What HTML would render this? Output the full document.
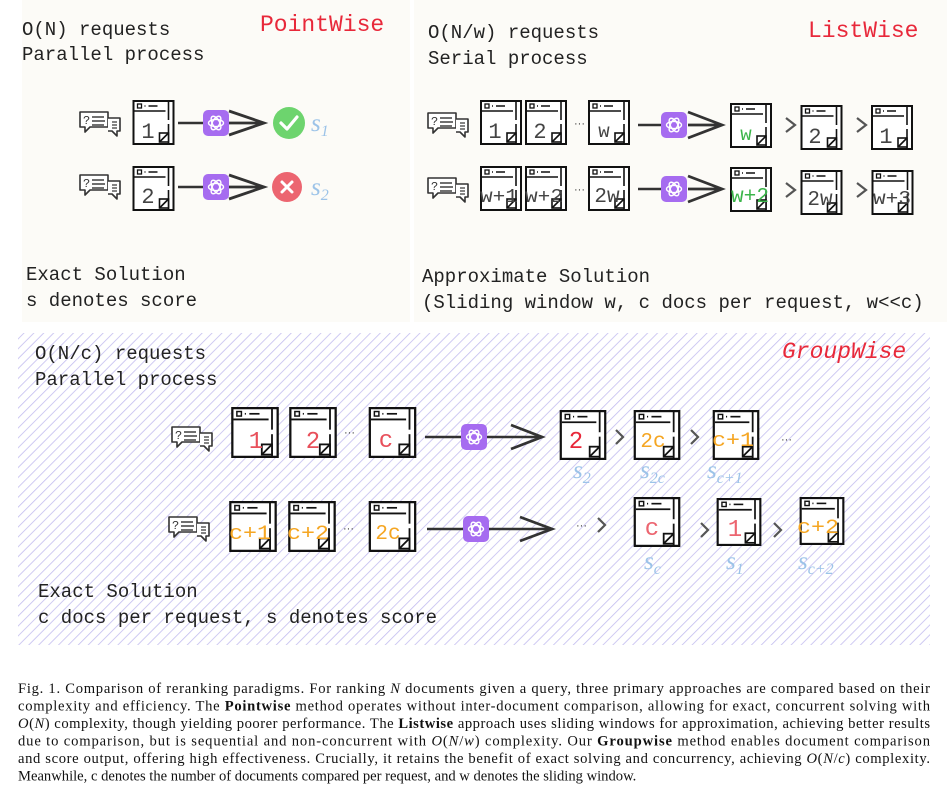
<!DOCTYPE html>
<html><head><meta charset="utf-8"><style>
html,body{margin:0;padding:0;background:#fff;}
svg{display:block;}
.m{font-family:"Liberation Mono",monospace;font-size:19px;fill:#222;}
.h{font-family:"Liberation Mono",monospace;font-size:23px;fill:#e8283a;}
.d{font-family:"Liberation Mono",monospace;font-size:22px;fill:#444;text-anchor:middle;}
.g{font-family:"Liberation Mono",monospace;font-size:24px;text-anchor:middle;}
.s{font-family:"Liberation Serif",serif;font-style:italic;font-size:25px;fill:#9cc3e8;}
.sub{font-size:16px;}
.c{font-family:"Liberation Serif",serif;font-size:14.6px;fill:#111;}
</style></head><body>
<svg width="947" height="792" viewBox="0 0 947 792" xmlns="http://www.w3.org/2000/svg">
<defs>
<pattern id="hatch" width="7" height="7" patternUnits="userSpaceOnUse" patternTransform="rotate(45)">
<rect width="7" height="7" fill="#fff"/>
<line x1="0" y1="0" x2="0" y2="7" stroke="#c3bdef" stroke-width="1.6"/>
</pattern>
<symbol id="doc" viewBox="0 0 42 45">
<rect x="1" y="1" width="40" height="43" fill="#fff" stroke="#111" stroke-width="2"/>
<line x1="36" y1="1" x2="36" y2="44" stroke="#111" stroke-width="1.6"/>
<line x1="2" y1="11" x2="33" y2="11" stroke="#111" stroke-width="1.6"/>
<rect x="5" y="4" width="4" height="4" fill="none" stroke="#111" stroke-width="1.3"/>
<line x1="12" y1="6" x2="13" y2="6" stroke="#111" stroke-width="1.5"/>
<line x1="16" y1="6" x2="25" y2="6" stroke="#111" stroke-width="1.5"/>
<rect x="27" y="33" width="9" height="9" fill="#fff" stroke="#111" stroke-width="1.6"/>
<line x1="27" y1="42" x2="36" y2="33" stroke="#111" stroke-width="1.6"/>
<line x1="36" y1="20" x2="36" y2="24" stroke="#fff" stroke-width="2"/>
</symbol>
<symbol id="chat" viewBox="0 0 44 28">
<path d="M2 2 H30 V17 H12 L7 22 V17 H2 Z" fill="#fff" stroke="#333" stroke-width="1.6" stroke-linejoin="round"/>
<path d="M30 8 H42 V21 H39 V26 L34 21 H30" fill="#fff" stroke="#333" stroke-width="1.6" stroke-linejoin="round"/>
<text x="5" y="14" font-family="Liberation Mono,monospace" font-size="12" fill="#333">?</text>
<line x1="14" y1="7" x2="26" y2="7" stroke="#333" stroke-width="1.4"/>
<line x1="14" y1="11" x2="27" y2="11" stroke="#333" stroke-width="1.4"/>
<line x1="14" y1="15" x2="26" y2="15" stroke="#333" stroke-width="1.4"/>
<line x1="34" y1="12" x2="39" y2="12" stroke="#333" stroke-width="1.2"/>
<line x1="34" y1="15" x2="39" y2="15" stroke="#333" stroke-width="1.2"/>
<line x1="34" y1="18" x2="39" y2="18" stroke="#333" stroke-width="1.2"/>
</symbol>
<symbol id="gpt" viewBox="0 0 26 26">
<rect x="0" y="0" width="26" height="26" rx="5" fill="#a66cf0"/>
<g fill="none" stroke="#fff" stroke-width="1.4">
<ellipse cx="13" cy="13" rx="7.5" ry="3.6"/>
<ellipse cx="13" cy="13" rx="7.5" ry="3.6" transform="rotate(60 13 13)"/>
<ellipse cx="13" cy="13" rx="7.5" ry="3.6" transform="rotate(120 13 13)"/>
</g>
</symbol>
</defs>

<rect x="22" y="0" width="388" height="322" fill="#fcfbf7"/>
<rect x="414" y="0" width="533" height="322" fill="#fcfbf7"/>
<rect x="18" y="333" width="912" height="312" fill="url(#hatch)"/>

<!-- POINTWISE -->
<text class="m" x="22" y="35">O(N) requests</text>
<text class="m" x="22" y="60">Parallel process</text>
<text class="h" x="260" y="31">PointWise</text>

<use href="#chat" x="78" y="110" width="44" height="28"/>
<use href="#doc" x="132" y="100" width="43" height="45"/>
<text class="d" x="148" y="138">1</text>
<line x1="178" y1="123" x2="204" y2="123" stroke="#333" stroke-width="2.5"/>
<use href="#gpt" x="203" y="110" width="26" height="26"/>
<path d="M229 111 L264 123 L229 135 M229 123 H264" fill="none" stroke="#333" stroke-width="2.8"/>
<circle cx="289" cy="123" r="16" fill="#6dd46e"/>
<path d="M281 123 L287 129 L297 117" fill="none" stroke="#fff" stroke-width="3.2" stroke-linecap="round" stroke-linejoin="round"/>
<text class="s" x="311" y="131">s<tspan class="sub" dy="5">1</tspan></text>

<use href="#chat" x="78" y="173" width="44" height="28"/>
<use href="#doc" x="132" y="166" width="43" height="45"/>
<text class="d" x="148" y="203">2</text>
<line x1="178" y1="187" x2="204" y2="187" stroke="#333" stroke-width="2.5"/>
<use href="#gpt" x="203" y="174" width="26" height="26"/>
<path d="M229 175 L264 187 L229 199 M229 187 H264" fill="none" stroke="#333" stroke-width="2.8"/>
<circle cx="287" cy="187" r="15" fill="#ec6570"/>
<path d="M282 182 L292 192 M292 182 L282 192" stroke="#fff" stroke-width="3" stroke-linecap="round"/>
<text class="s" x="311" y="195">s<tspan class="sub" dy="5">2</tspan></text>

<text class="m" x="26" y="280">Exact Solution</text>
<text class="m" x="26" y="306">s denotes score</text>

<!-- LISTWISE -->
<text class="m" x="428" y="38">O(N/w) requests</text>
<text class="m" x="428" y="64">Serial process</text>
<text class="h" x="808" y="37">ListWise</text>

<use href="#chat" x="426" y="111" width="44" height="28"/>
<use href="#doc" x="480" y="100" width="42" height="45"/>
<text class="d" x="495" y="138">1</text>
<use href="#doc" x="525" y="100" width="42" height="45"/>
<text class="d" x="540" y="138">2</text>
<text x="574" y="127" font-size="11" fill="#333" font-family="Liberation Sans,sans-serif">···</text>
<use href="#doc" x="588" y="100" width="42" height="45"/>
<text class="d" x="604" y="137" style="font-size:19px">w</text>
<line x1="638" y1="125" x2="662" y2="125" stroke="#333" stroke-width="2.5"/>
<use href="#gpt" x="661" y="112" width="26" height="26"/>
<path d="M688 112 L722 125 L688 138 M688 125 H722" fill="none" stroke="#333" stroke-width="2.8"/>
<use href="#doc" x="730" y="103" width="42" height="45"/>
<text class="d" x="746" y="140" style="fill:#3bb54a;font-size:19px">w</text>
<path d="M786 118 L795 125 L786 132" fill="none" stroke="#555" stroke-width="2.2"/>
<use href="#doc" x="800" y="105" width="43" height="45"/>
<text class="d" x="815" y="143">2</text>
<path d="M857 118 L866 125 L857 132" fill="none" stroke="#555" stroke-width="2.2"/>
<use href="#doc" x="871" y="105" width="42" height="45"/>
<text class="d" x="886" y="143">1</text>

<use href="#chat" x="426" y="176" width="44" height="28"/>
<use href="#doc" x="480" y="166" width="42" height="45"/>
<text class="d" x="499" y="202" style="font-size:19px" textLength="38" lengthAdjust="spacingAndGlyphs">w+1</text>
<use href="#doc" x="525" y="166" width="42" height="45"/>
<text class="d" x="544" y="202" style="font-size:19px" textLength="38" lengthAdjust="spacingAndGlyphs">w+2</text>
<text x="574" y="193" font-size="11" fill="#333" font-family="Liberation Sans,sans-serif">···</text>
<use href="#doc" x="588" y="166" width="42" height="45"/>
<text class="d" x="607" y="202" style="font-size:21px">2w</text>
<line x1="638" y1="189" x2="662" y2="189" stroke="#333" stroke-width="2.5"/>
<use href="#gpt" x="661" y="176" width="26" height="26"/>
<path d="M688 176 L722 189 L688 202 M688 189 H722" fill="none" stroke="#333" stroke-width="2.8"/>
<use href="#doc" x="730" y="167" width="42" height="45"/>
<text class="d" x="750" y="202" style="fill:#3bb54a;font-size:21px" textLength="38" lengthAdjust="spacingAndGlyphs">w+2</text>
<path d="M786 183 L795 190 L786 197" fill="none" stroke="#555" stroke-width="2.2"/>
<use href="#doc" x="800" y="170" width="43" height="45"/>
<text class="d" x="820" y="205" style="font-size:21px">2w</text>
<path d="M857 183 L866 190 L857 197" fill="none" stroke="#555" stroke-width="2.2"/>
<use href="#doc" x="871" y="170" width="43" height="45"/>
<text class="d" x="892" y="204" style="font-size:19px" textLength="38" lengthAdjust="spacingAndGlyphs">w+3</text>

<text class="m" x="422" y="282">Approximate Solution</text>
<text class="m" x="422" y="308">(Sliding window w, c docs per request, w&lt;&lt;c)</text>

<!-- GROUPWISE -->
<text class="m" x="35" y="359">O(N/c) requests</text>
<text class="m" x="35" y="385">Parallel process</text>
<text class="h" x="782" y="358" style="font-style:italic">GroupWise</text>

<use href="#chat" x="170" y="425" width="44" height="28"/>
<use href="#doc" x="230" y="407" width="50" height="51"/>
<text class="g" x="256" y="448" fill="#e8505b">1</text>
<use href="#doc" x="288" y="407" width="50" height="51"/>
<text class="g" x="313" y="448" fill="#e8505b">2</text>
<text x="344" y="436" font-size="11" fill="#333" font-family="Liberation Sans,sans-serif">···</text>
<use href="#doc" x="367" y="407" width="51" height="51"/>
<text class="g" x="386" y="447" fill="#e8505b">c</text>
<line x1="425" y1="437" x2="462" y2="437" stroke="#333" stroke-width="2.5"/>
<use href="#gpt" x="461" y="424" width="26" height="26"/>
<line x1="487" y1="437" x2="542" y2="437" stroke="#333" stroke-width="2.5"/>
<path d="M511 425 L542 437 L511 449" fill="none" stroke="#333" stroke-width="2.8"/>

<use href="#doc" x="558" y="410" width="50" height="50"/>
<text class="g" x="576" y="448" fill="#e8283a">2</text>
<path d="M616 430 L623 437 L616 444" fill="none" stroke="#555" stroke-width="2.2"/>
<use href="#doc" x="632" y="410" width="50" height="50"/>
<text class="g" x="653" y="447" fill="#f5a623" style="font-size:21px">2c</text>
<path d="M691 430 L698 437 L691 444" fill="none" stroke="#555" stroke-width="2.2"/>
<use href="#doc" x="711" y="410" width="50" height="50"/>
<text class="g" x="733" y="446" fill="#f5a623" style="font-size:20px" textLength="42" lengthAdjust="spacingAndGlyphs">c+1</text>
<text x="781" y="443" font-size="11" fill="#333" font-family="Liberation Sans,sans-serif">···</text>
<text class="s" x="573" y="478">s<tspan class="sub" dy="5">2</tspan></text>
<text class="s" x="640" y="478">s<tspan class="sub" dy="5">2c</tspan></text>
<text class="s" x="707" y="478">s<tspan class="sub" dy="5">c+1</tspan></text>

<use href="#chat" x="167" y="515" width="44" height="28"/>
<use href="#doc" x="228" y="501" width="50" height="51"/>
<text class="g" x="250" y="539" fill="#f5a623" style="font-size:20px" textLength="42" lengthAdjust="spacingAndGlyphs">c+1</text>
<use href="#doc" x="287" y="501" width="50" height="51"/>
<text class="g" x="308" y="539" fill="#f5a623" style="font-size:20px" textLength="42" lengthAdjust="spacingAndGlyphs">c+2</text>
<text x="343" y="532" font-size="11" fill="#333" font-family="Liberation Sans,sans-serif">···</text>
<use href="#doc" x="367" y="501" width="51" height="51"/>
<text class="g" x="388" y="539" fill="#f5a623" style="font-size:21px">2c</text>
<line x1="427" y1="529" x2="464" y2="529" stroke="#333" stroke-width="2.5"/>
<use href="#gpt" x="463" y="516" width="26" height="26"/>
<line x1="489" y1="529" x2="552" y2="529" stroke="#333" stroke-width="2.5"/>
<path d="M520 517 L552 529 L520 541" fill="none" stroke="#333" stroke-width="2.8"/>
<text x="576" y="529" font-size="11" fill="#333" font-family="Liberation Sans,sans-serif">···</text>
<path d="M598 518 L605 525 L598 532" fill="none" stroke="#555" stroke-width="2.2"/>

<use href="#doc" x="632" y="497" width="50" height="50"/>
<text class="g" x="652" y="535" fill="#ec6570">c</text>
<path d="M701 523 L708 530 L701 537" fill="none" stroke="#555" stroke-width="2.2"/>
<use href="#doc" x="714" y="498" width="50" height="48"/>
<text class="g" x="735" y="536" fill="#ec6570">1</text>
<path d="M774 523 L781 530 L774 537" fill="none" stroke="#555" stroke-width="2.2"/>
<use href="#doc" x="797" y="497" width="50" height="48"/>
<text class="g" x="818" y="533" fill="#f5a623" style="font-size:20px" textLength="42" lengthAdjust="spacingAndGlyphs">c+2</text>
<text class="s" x="644" y="569">s<tspan class="sub" dy="5">c</tspan></text>
<text class="s" x="726" y="569">s<tspan class="sub" dy="5">1</tspan></text>
<text class="s" x="798" y="569">s<tspan class="sub" dy="5">c+2</tspan></text>

<text class="m" x="38" y="597">Exact Solution</text>
<text class="m" x="38" y="623">c docs per request, s denotes score</text>

<!-- CAPTION -->
<g class="c">
<text x="18" y="693" textLength="912" lengthAdjust="spacing">Fig. 1.  Comparison of reranking paradigms. For ranking <tspan font-style="italic">N</tspan> documents given a query, three primary approaches are compared based on their</text>
<text x="18" y="710.5" textLength="912" lengthAdjust="spacing">complexity and efficiency. The <tspan font-weight="bold">Pointwise</tspan> method operates without inter-document comparison, allowing for exact, concurrent solving with</text>
<text x="18" y="728" textLength="912" lengthAdjust="spacing"><tspan font-style="italic">O</tspan>(<tspan font-style="italic">N</tspan>) complexity, though yielding poorer performance. The <tspan font-weight="bold">Listwise</tspan> approach uses sliding windows for approximation, achieving better results</text>
<text x="18" y="745.5" textLength="912" lengthAdjust="spacing">due to comparison, but is sequential and non-concurrent with <tspan font-style="italic">O</tspan>(<tspan font-style="italic">N</tspan>/<tspan font-style="italic">w</tspan>) complexity. Our <tspan font-weight="bold">Groupwise</tspan> method enables document comparison</text>
<text x="18" y="763" textLength="912" lengthAdjust="spacing">and score output, offering high effectiveness. Crucially, it retains the benefit of exact solving and concurrency, achieving <tspan font-style="italic">O</tspan>(<tspan font-style="italic">N</tspan>/<tspan font-style="italic">c</tspan>) complexity.</text>
<text x="18" y="780.5">Meanwhile, c denotes the number of documents compared per request, and w denotes the sliding window.</text>
</g>
</svg>
</body></html>
